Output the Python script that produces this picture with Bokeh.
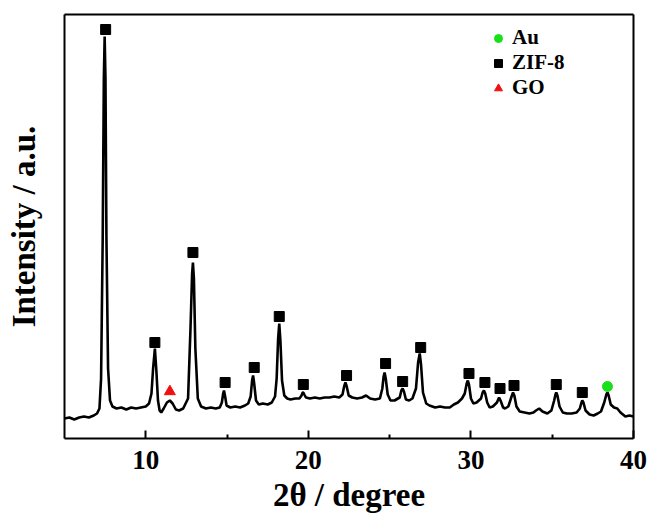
from bokeh.plotting import figure
from bokeh.models import Range1d, FixedTicker, Legend, LegendItem, LinearAxis
from bokeh.embed import file_html
from bokeh.resources import INLINE

# XRD trace: 2theta (degree) and intensity (a.u.)
two_theta = [
    5.0, 5.3, 5.6, 5.9, 6.2, 6.5, 6.8, 7.0, 7.15,
    7.25, 7.35, 7.42, 7.47, 7.52, 7.58, 7.68, 7.8, 7.95,
    8.2, 8.5, 8.8, 9.1, 9.4, 9.7, 10.0, 10.2,
    10.35, 10.45, 10.56, 10.65, 10.75, 10.85, 10.95,
    11.1, 11.3, 11.48, 11.65, 11.85, 12.05, 12.3,
    12.6, 12.75, 12.85, 12.9, 12.96, 13.05, 13.2, 13.4,
    13.7, 14.0, 14.3, 14.55,
    14.68, 14.76, 14.81, 14.87, 14.97, 15.2,
    15.5, 15.8, 16.1, 16.3,
    16.45, 16.54, 16.6, 16.66, 16.78, 16.95,
    17.2, 17.5, 17.75, 17.95,
    18.05, 18.14, 18.21, 18.28, 18.38, 18.52, 18.7,
    18.9, 19.2, 19.45,
    19.58, 19.65, 19.69, 19.75, 19.85,
    20.1, 20.4, 20.7, 21.0, 21.3, 21.6, 21.9, 22.1,
    22.2, 22.28, 22.36, 22.48, 22.7,
    23.0, 23.3, 23.55, 23.8, 24.1, 24.4,
    24.55, 24.63, 24.69, 24.76, 24.88, 25.05, 25.3,
    25.62, 25.72, 25.8, 25.88, 26.0, 26.2, 26.4,
    26.62, 26.75, 26.85, 26.93, 27.05, 27.25, 27.45,
    27.8, 28.1, 28.4, 28.7, 28.95, 29.2, 29.45,
    29.62, 29.74, 29.81, 29.88, 30.0, 30.15,
    30.35, 30.62, 30.72, 30.8, 30.88, 31.0, 31.15,
    31.35, 31.6, 31.73, 31.82, 31.98, 32.1,
    32.3, 32.5, 32.59, 32.67, 32.8, 33.0,
    33.3, 33.6, 33.85, 34.0, 34.2, 34.4, 34.7, 34.95,
    35.12, 35.2, 35.25, 35.32, 35.45, 35.65,
    35.9, 36.2, 36.5, 36.7,
    36.8, 36.85, 36.92, 37.05, 37.3, 37.55, 37.8,
    38.0, 38.2,
    38.33, 38.4, 38.47, 38.6, 38.8, 39.0, 39.2, 39.5, 39.75, 40.0,
]
intensity = [
    20, 21, 19, 21, 22, 21, 23, 25, 30,
    60, 200, 360, 402, 360, 200, 70, 38, 32,
    30, 31, 29, 31, 30, 31, 32, 35,
    45, 70, 90, 68, 38, 28, 26,
    30, 36, 38, 35, 29, 28, 30,
    40, 110, 165, 176, 160, 90, 40, 32,
    30, 31, 30, 31,
    36, 45, 48, 43, 33, 31,
    32, 31, 33, 35,
    42, 58, 63, 56, 38, 34,
    35, 34, 36, 42,
    60, 100, 115, 98, 58, 43, 40,
    39, 40, 40,
    43, 46, 46, 44, 41,
    40, 41, 40, 41, 41, 42, 41, 44,
    52, 56, 52, 43, 41,
    40, 41, 43, 40, 39, 40,
    50, 62, 66, 60, 44, 38, 38,
    41, 48, 50, 47, 39, 38, 40,
    50, 76, 85, 74, 46, 35, 33,
    31, 32, 31, 31, 34, 36, 40,
    45, 55, 58, 54, 40, 35,
    36, 40, 46, 48, 45, 36, 31,
    32, 36, 41, 38, 31, 30,
    32, 42, 46, 43, 32, 27,
    26, 25, 26, 28, 30, 27, 25, 28,
    38, 44, 46, 43, 32, 26,
    25, 25, 26, 30,
    36, 38, 36, 28, 24, 23, 25,
    27, 36,
    44, 46, 43, 34, 31, 30, 26, 22, 23, 22,
]

# Phase markers (position, marker height)
zif8_x = [7.53, 10.56, 12.90, 14.88, 16.67, 18.21, 19.69, 22.35, 24.75,
          25.80, 26.91, 29.88, 30.86, 31.79, 32.65, 35.25, 36.85]
zif8_y = [409, 96, 186, 56, 71, 122, 54, 63, 75,
          57, 91, 65, 56, 50, 53, 54, 46]
au_x = [38.40]
au_y = [52]
go_x = [11.48]
go_y = [47]

x_ticks = [10, 20, 30, 40]
x_minor = [15, 25, 35]

FONT = "Liberation Serif"

p = figure(width=652, height=519, x_range=Range1d(5, 40), y_range=Range1d(0, 424),
           output_backend="svg", toolbar_location=None,
           min_border_left=64, min_border_right=19, min_border_top=14, min_border_bottom=81)
p.grid.visible = False
p.background_fill_color = "white"
p.border_fill_color = "white"
p.outline_line_color = None

p.line(two_theta, intensity, line_color="black", line_width=2.6)

r_zif = p.scatter(zif8_x, zif8_y, marker="square", size=10, color="black")
r_au = p.scatter(au_x, au_y, marker="circle", size=10, color="#19e019")
r_go = p.scatter(go_x, go_y, marker="triangle", size=11, color="#f01010")

xa = p.xaxis[0]
xa.ticker = FixedTicker(ticks=x_ticks, minor_ticks=x_minor)
xa.major_tick_in = 8
xa.major_tick_out = 0
xa.minor_tick_in = 4
xa.minor_tick_out = 0
xa.major_tick_line_width = 2
xa.minor_tick_line_width = 2
xa.axis_line_width = 2
xa.major_label_text_font = FONT
xa.major_label_text_font_style = "bold"
xa.major_label_text_font_size = "27px"
xa.major_label_text_color = "black"
xa.major_label_standoff = 12
xa.axis_label = "2\u03b8 / degree"
xa.axis_label_text_font = FONT
xa.axis_label_text_font_style = "bold"
xa.axis_label_text_font_size = "33px"
xa.axis_label_text_color = "black"
xa.axis_label_standoff = 5

ya = p.yaxis[0]
ya.ticker = FixedTicker(ticks=[])
ya.major_label_text_font_size = "0px"
ya.major_tick_line_color = None
ya.minor_tick_line_color = None
ya.axis_line_width = 2
ya.axis_label = "Intensity / a.u."
ya.axis_label_text_font = FONT
ya.axis_label_text_font_style = "bold"
ya.axis_label_text_font_size = "33px"
ya.axis_label_text_color = "black"
ya.axis_label_standoff = 23

# top and right frame lines
for side in ("above", "right"):
    ax = LinearAxis(ticker=FixedTicker(ticks=[]), major_label_text_font_size="0px",
                    major_tick_line_color=None, minor_tick_line_color=None,
                    axis_line_width=2)
    p.add_layout(ax, side)

legend = Legend(items=[LegendItem(label="Au", renderers=[r_au]),
                       LegendItem(label="ZIF-8", renderers=[r_zif]),
                       LegendItem(label="GO", renderers=[r_go])],
                location=(424, 338), orientation="vertical",
                padding=0, margin=0, spacing=0, glyph_width=20, glyph_height=20,
                label_height=20, label_standoff=4,
                label_text_font=FONT, label_text_font_style="bold",
                label_text_font_size="21px", label_text_color="black",
                border_line_color=None, background_fill_alpha=0)
p.add_layout(legend)

open("out.html", "w").write(file_html(p, INLINE))
